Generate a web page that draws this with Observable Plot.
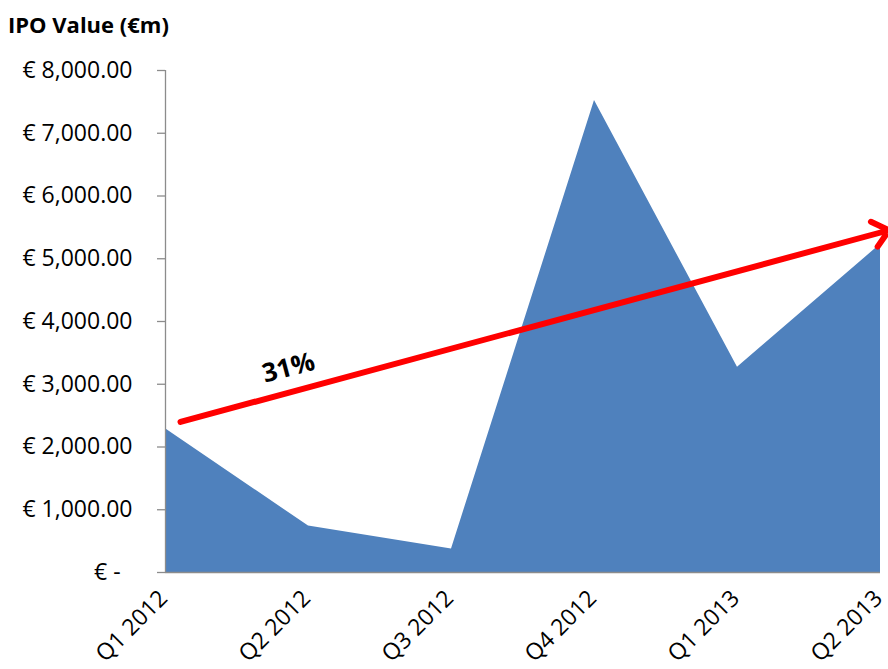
<!DOCTYPE html>
<html>
<head>
<meta charset="utf-8">
<script src="https://cdn.jsdelivr.net/npm/d3@7"></script>
<script src="https://cdn.jsdelivr.net/npm/@observablehq/plot@0.6"></script>
<style>
  body { margin: 0; background: #fff; font-family: "Open Sans", sans-serif; }
  #title { height: 50px; box-sizing: border-box; padding: 11px 0 0 8px; font-size: 22px; font-weight: bold; line-height: 26px; color: #000; }
</style>
</head>
<body>
<div id="title">IPO Value (€m)</div>
<div id="chart"></div>
<script>
const quarters = ["Q1 2012", "Q2 2012", "Q3 2012", "Q4 2012", "Q1 2013", "Q2 2013"];
const ipoValues = [2290, 740, 375, 7520, 3270, 5230];
const yTicks = [0, 1000, 2000, 3000, 4000, 5000, 6000, 7000, 8000];
const arrowStart = [0.105, 2400];   // [quarter index, €m]
const arrowEnd = [5.06, 5455];
const growthLabel = "31%";
const growthLabelPos = [0.86, 3260];

const data = quarters.map((q, i) => ({i, q, v: ipoValues[i]}));
const fmt = d3.format(",.2f");

const chart = Plot.plot({
  width: 888,
  height: 619,
  marginTop: 20,
  marginLeft: 165,
  marginRight: 8,
  marginBottom: 97,
  style: {fontFamily: "Open Sans, sans-serif", fontSize: "23px", color: "#000", background: "#fff"},
  x: {type: "linear", domain: [0, 5], nice: false},
  y: {domain: [0, 8000], nice: false},
  marks: [
    Plot.areaY(data, {x: "i", y: "v", fill: "#4F81BD"}),
    Plot.ruleX([0], {y1: 0, y2: 8000, stroke: "#8c8c8c", strokeWidth: 1.3}),
    Plot.ruleY([0], {stroke: "#8c8c8c", strokeWidth: 1.3}),
    Plot.axisY({
      ticks: yTicks,
      tickSize: 8,
      tickPadding: 25,
      stroke: "#8c8c8c",
      strokeWidth: 1.3,
      fill: "#000",
      fontSize: 23,
      tickFormat: d => d === 0 ? "€ -\u00a0\u00a0" : "€ " + fmt(d),
      label: null
    }),
    Plot.axisX({
      ticks: quarters.map((q, i) => i),
      tickFormat: i => quarters[i],
      tickSize: 0,
      tickPadding: 22,
      tickRotate: -45,
      dx: -2,
      fill: "#000",
      fontSize: 23,
      label: null
    }),
    Plot.arrow([{x1: arrowStart[0], y1: arrowStart[1], x2: arrowEnd[0], y2: arrowEnd[1]}], {
      x1: "x1", y1: "y1", x2: "x2", y2: "y2",
      stroke: "#FF0000", strokeWidth: 6, headLength: 5, headAngle: 80
    }),
    Plot.text([growthLabel], {
      x: () => growthLabelPos[0], y: () => growthLabelPos[1], text: d => d,
      rotate: -15, fontSize: 26, fontWeight: "bold", fill: "#000"
    })
  ]
});
document.getElementById("chart").appendChild(chart);
</script>
</body>
</html>
